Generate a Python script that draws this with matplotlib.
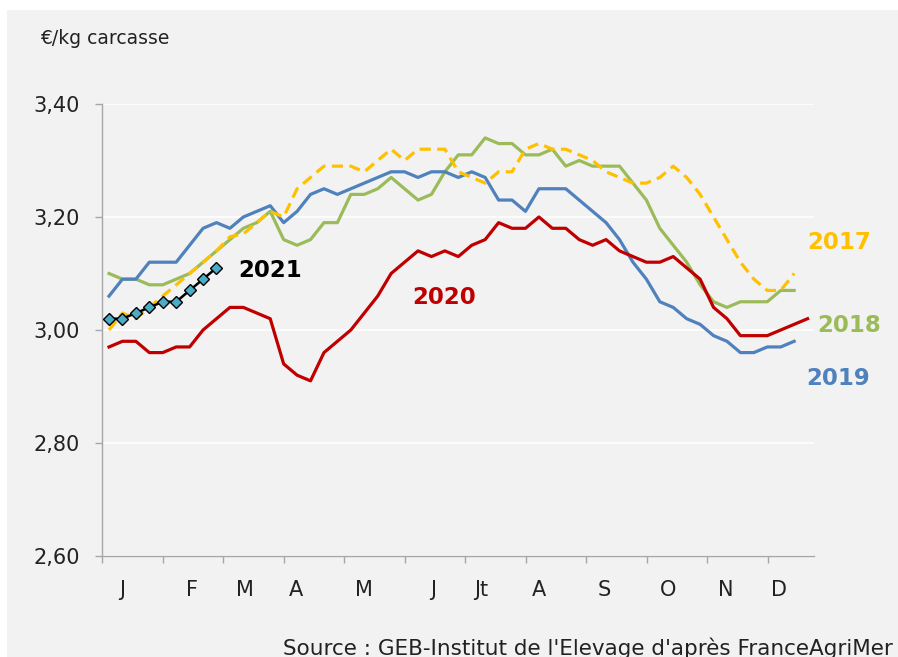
import matplotlib
matplotlib.use('Agg')
import matplotlib.pyplot as plt
import matplotlib.patches as patches
import numpy as np

plt.rcParams['font.family'] = ['DejaVu Sans']

# weekly prices, EUR/kg carcass
p2017 = [3.00, 3.03, 3.02, 3.04, 3.06, 3.08, 3.10, 3.12, 3.14, 3.165, 3.17, 3.19, 3.21,
         3.20, 3.25, 3.27, 3.29, 3.29, 3.29, 3.28, 3.30, 3.32, 3.30, 3.32, 3.32, 3.32,
         3.28, 3.27, 3.26, 3.28, 3.28, 3.32, 3.33, 3.32, 3.32, 3.31, 3.30, 3.28, 3.27,
         3.26, 3.26, 3.27, 3.29, 3.27, 3.24, 3.20, 3.16, 3.12, 3.09, 3.07, 3.07, 3.10]
p2018 = [3.10, 3.09, 3.09, 3.08, 3.08, 3.09, 3.10, 3.12, 3.14, 3.16, 3.18, 3.19, 3.21,
         3.16, 3.15, 3.16, 3.19, 3.19, 3.24, 3.24, 3.25, 3.27, 3.25, 3.23, 3.24, 3.28,
         3.31, 3.31, 3.34, 3.33, 3.33, 3.31, 3.31, 3.32, 3.29, 3.30, 3.29, 3.29, 3.29,
         3.26, 3.23, 3.18, 3.15, 3.12, 3.08, 3.05, 3.04, 3.05, 3.05, 3.05, 3.07, 3.07]
p2019 = [3.06, 3.09, 3.09, 3.12, 3.12, 3.12, 3.15, 3.18, 3.19, 3.18, 3.20, 3.21, 3.22,
         3.19, 3.21, 3.24, 3.25, 3.24, 3.25, 3.26, 3.27, 3.28, 3.28, 3.27, 3.28, 3.28,
         3.27, 3.28, 3.27, 3.23, 3.23, 3.21, 3.25, 3.25, 3.25, 3.23, 3.21, 3.19, 3.16,
         3.12, 3.09, 3.05, 3.04, 3.02, 3.01, 2.99, 2.98, 2.96, 2.96, 2.97, 2.97, 2.98]
p2020 = [2.97, 2.98, 2.98, 2.96, 2.96, 2.97, 2.97, 3.00, 3.02, 3.04, 3.04, 3.03, 3.02,
         2.94, 2.92, 2.91, 2.96, 2.98, 3.00, 3.03, 3.06, 3.10, 3.12, 3.14, 3.13, 3.14,
         3.13, 3.15, 3.16, 3.19, 3.18, 3.18, 3.20, 3.18, 3.18, 3.16, 3.15, 3.16, 3.14,
         3.13, 3.12, 3.12, 3.13, 3.11, 3.09, 3.04, 3.02, 2.99, 2.99, 2.99, 3.00, 3.01, 3.02]
p2021 = [3.02, 3.02, 3.03, 3.04, 3.05, 3.05, 3.07, 3.09, 3.11]

months = ['J', 'F', 'M', 'A', 'M', 'J', 'Jt', 'A', 'S', 'O', 'N', 'D']
month_pos = [1, 6.2, 10.1, 13.9, 19, 24.1, 27.7, 32, 36.9, 41.6, 45.9, 49.9]
yticks = [2.60, 2.80, 3.00, 3.20, 3.40]

fig = plt.figure(figsize=(8.98, 6.57), dpi=100, facecolor='white')
# grey panel behind everything
fig.patches.append(patches.Rectangle((7/898, 0), 1, 1 - 10/657, transform=fig.transFigure,
                                     facecolor='#f2f2f2', edgecolor='none', zorder=-10))

ax = fig.add_axes([102.3/898, 1 - 556/657, 712/898, 452/657])
ax.set_facecolor('#f2f2f2')

ax.plot(range(len(p2018)), p2018, color='#9bbb59', lw=2.3, solid_joinstyle='round', zorder=3)
ax.plot(range(len(p2019)), p2019, color='#4f81bd', lw=2.3, solid_joinstyle='round', zorder=3)
ax.plot(range(len(p2017)), p2017, color='#ffc000', lw=2.3, ls=(0, (3.5, 2)), zorder=4)
ax.plot(range(len(p2020)), p2020, color='#c00000', lw=2.3, solid_joinstyle='round', zorder=5)
ax.plot(range(len(p2021)), p2021, color='black', lw=1.8, marker='D', markersize=6,
        markerfacecolor='#4bacc6', markeredgecolor='black', markeredgewidth=1, zorder=6)

ax.set_xlim(-0.5, 52.5)
ax.set_ylim(2.60, 3.40)

ax.set_yticks(yticks)
ax.set_yticklabels([('%.2f' % v).replace('.', ',') for v in yticks], fontsize=15, color='#222222')
ax.grid(axis='y', color='white', lw=1.2)
ax.set_axisbelow(True)

ax.set_xticks(month_pos)
ax.set_xticklabels(months, fontsize=15, color='#222222')
ax.set_xticks(np.arange(-0.5, 52, 4.505), minor=True)
ax.tick_params(axis='x', which='major', length=0, pad=17)
ax.tick_params(axis='x', which='minor', length=5, color='#a6a6a6', width=1)
ax.tick_params(axis='y', length=5, color='#a6a6a6', width=1, pad=11)

for s in ['top', 'right']:
    ax.spines[s].set_visible(False)
for s in ['left', 'bottom']:
    ax.spines[s].set_color('#a6a6a6')
    ax.spines[s].set_linewidth(1)

# year labels
ax.text(9.6, 3.105, '2021', color='black', fontsize=16.5, fontweight='bold', va='center')
ax.text(22.6, 3.058, '2020', color='#c00000', fontsize=16.5, fontweight='bold', va='center')
ax.text(52.0, 3.155, '2017', color='#ffc000', fontsize=16.5, fontweight='bold', va='center')
ax.text(52.7, 3.008, '2018', color='#9bbb59', fontsize=16.5, fontweight='bold', va='center')
ax.text(51.9, 2.915, '2019', color='#4f81bd', fontsize=16.5, fontweight='bold', va='center')

fig.text(40/898, 1 - 38/657, '€/kg carcasse', fontsize=13.5, color='#222222', va='center')
fig.text(893/898, 1 - 648/657, "Source : GEB-Institut de l'Elevage d'après FranceAgriMer",
         fontsize=15.5, color='#222222', ha='right', va='center')

plt.savefig('out.png', dpi=100, facecolor=fig.get_facecolor())
